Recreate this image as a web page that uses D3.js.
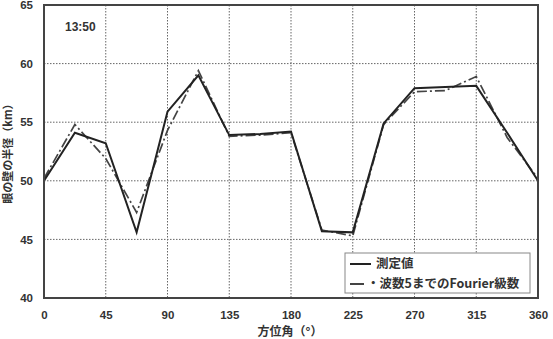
<!DOCTYPE html>
<html lang="ja">
<head>
<meta charset="utf-8">
<title>眼の壁の半径</title>
<script src="https://d3js.org/d3.v7.min.js"></script>
<style>
  body { margin: 0; background: #fff; }
  text { font-family: "Liberation Sans", Arial, sans-serif; }
  .jp { font-family: "Noto Sans CJK JP", sans-serif; }
</style>
</head>
<body>
<script>
// azimuth (deg), every 22.5
var angles = [0, 22.5, 45, 67.5, 90, 112.5, 135, 157.5, 180, 202.5, 225, 247.5, 270, 292.5, 315, 337.5, 360];
// measured eyewall radius (km)
var measured = [50.0, 54.1, 53.2, 45.6, 55.9, 59.0, 53.9, 54.0, 54.2, 45.7, 45.6, 54.9, 57.9, 58.0, 58.1, 54.1, 50.0];
// Fourier series up to wavenumber 5
var fourier = [50.2, 54.8, 51.9, 47.3, 54.3, 59.4, 53.8, 53.9, 54.1, 45.8, 45.3, 54.8, 57.6, 57.7, 58.9, 53.7, 50.2];

var xTicks = [0, 45, 90, 135, 180, 225, 270, 315, 360];
var yTicks = [40, 45, 50, 55, 60, 65];
var timeLabel = "13:50";
var legendLabels = ["測定値", "・波数5までのFourier級数"];

var w = 553, h = 339;
// note: "top" is taken by window.top, so use plot* names
var plotL = 44, plotR = 538, plotT = 5, plotB = 298;

var svg = d3.select("body").append("svg")
    .attr("width", w)
    .attr("height", h);

var x = d3.scaleLinear().domain([0, 360]).range([plotL, plotR]);
var y = d3.scaleLinear().domain([40, 65]).range([plotB, plotT]);

// grid
svg.append("g").selectAll("line")
    .data(xTicks.slice(1, -1))
    .enter().append("line")
    .attr("x1", function(d) { return x(d); })
    .attr("x2", function(d) { return x(d); })
    .attr("y1", plotT).attr("y2", plotB)
    .attr("stroke", "#666").attr("stroke-width", 1)
    .attr("stroke-dasharray", "1.5,1.5");
svg.append("g").selectAll("line")
    .data(yTicks.slice(1, -1))
    .enter().append("line")
    .attr("y1", function(d) { return y(d); })
    .attr("y2", function(d) { return y(d); })
    .attr("x1", plotL).attr("x2", plotR)
    .attr("stroke", "#666").attr("stroke-width", 1)
    .attr("stroke-dasharray", "1.5,1.5");

// axes (labels only, frame drawn separately)
var xAxis = svg.append("g")
    .attr("transform", "translate(0," + plotB + ")")
    .call(d3.axisBottom(x).tickValues(xTicks).tickSize(0).tickPadding(13));
var yAxis = svg.append("g")
    .attr("transform", "translate(" + plotL + ",0)")
    .call(d3.axisLeft(y).tickValues(yTicks).tickSize(0).tickPadding(11));
[xAxis, yAxis].forEach(function(a) {
    a.select(".domain").remove();
    a.selectAll("text")
        .attr("font-family", "\"Liberation Sans\", Arial, sans-serif")
        .attr("font-size", "11.5px")
        .attr("font-weight", "bold")
        .attr("fill", "#333");
});

// lines
var line = d3.line()
    .x(function(d) { return x(d[0]); })
    .y(function(d) { return y(d[1]); });

svg.append("path")
    .datum(angles.map(function(a, i) { return [a, fourier[i]]; }))
    .attr("d", line)
    .attr("fill", "none")
    .attr("stroke", "#444")
    .attr("stroke-width", 1.7)
    .attr("stroke-dasharray", "10,3,2,3");

svg.append("path")
    .datum(angles.map(function(a, i) { return [a, measured[i]]; }))
    .attr("d", line)
    .attr("fill", "none")
    .attr("stroke", "#222")
    .attr("stroke-width", 2);

// frame
svg.append("rect")
    .attr("x", plotL).attr("y", plotT)
    .attr("width", plotR - plotL).attr("height", plotB - plotT)
    .attr("fill", "none")
    .attr("stroke", "#444")
    .attr("stroke-width", 2);

// time label
svg.append("text")
    .attr("x", 65).attr("y", 31)
    .attr("font-size", "12px")
    .attr("font-weight", "bold")
    .attr("fill", "#333")
    .text(timeLabel);

// legend
var lg = svg.append("g");
lg.append("rect")
    .attr("x", 345).attr("y", 253)
    .attr("width", 185).attr("height", 40)
    .attr("fill", "#fff")
    .attr("stroke", "#888")
    .attr("stroke-width", 1);
lg.append("line")
    .attr("x1", 350).attr("x2", 371).attr("y1", 264).attr("y2", 264)
    .attr("stroke", "#222").attr("stroke-width", 2);
lg.append("line")
    .attr("x1", 350).attr("x2", 364).attr("y1", 284).attr("y2", 284)
    .attr("stroke", "#444").attr("stroke-width", 2);
lg.selectAll("text")
    .data(legendLabels)
    .enter().append("text")
    .attr("class", "jp")
    .attr("x", function(d, i) { return i == 0 ? 376 : 367; })
    .attr("y", function(d, i) { return 268 + i * 20; })
    .attr("font-size", "12.5px")
    .attr("font-weight", "bold")
    .attr("fill", "#333")
    .text(function(d) { return d; });

// axis titles
svg.append("text")
    .attr("class", "jp")
    .attr("transform", "translate(12," + 151 + ") rotate(-90)")
    .attr("text-anchor", "middle")
    .attr("font-size", "11px")
    .attr("font-weight", "bold")
    .attr("fill", "#333")
    .text("眼の壁の半径（km）");

svg.append("text")
    .attr("class", "jp")
    .attr("x", 290).attr("y", 336)
    .attr("text-anchor", "middle")
    .attr("font-size", "12px")
    .attr("font-weight", "bold")
    .attr("fill", "#333")
    .text("方位角（°）");
</script>
</body>
</html>
